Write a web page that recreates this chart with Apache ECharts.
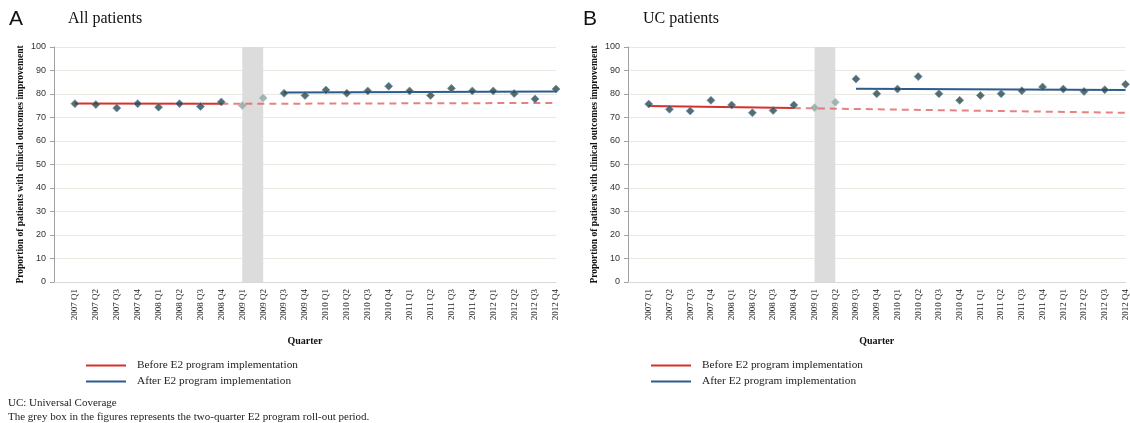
<!DOCTYPE html>
<html><head><meta charset="utf-8">
<script src="https://cdn.jsdelivr.net/npm/echarts@6/dist/echarts.min.js"></script>
<style>html,body{margin:0;padding:0;background:#fff}#c{width:1130px;height:423px}</style>
</head><body><div id="c"></div>
<script>
const quarters = ['2007 Q1','2007 Q2','2007 Q3','2007 Q4','2008 Q1','2008 Q2','2008 Q3','2008 Q4',
  '2009 Q1','2009 Q2','2009 Q3','2009 Q4','2010 Q1','2010 Q2','2010 Q3','2010 Q4',
  '2011 Q1','2011 Q2','2011 Q3','2011 Q4','2012 Q1','2012 Q2','2012 Q3','2012 Q4'];
const yTicks = [0,10,20,30,40,50,60,70,80,90,100];
const allPatients = [75.9,75.5,74.0,75.9,74.4,75.9,74.7,76.6,75.1,78.3,80.3,79.4,81.7,80.3,81.3,83.3,81.3,79.4,82.4,81.3,81.3,80.2,77.9,82.1];
const ucPatients  = [75.7,73.5,72.8,77.3,75.3,72.0,73.0,75.3,74.2,76.5,86.4,80.1,82.1,87.4,80.1,77.3,79.4,80.1,81.4,83.0,82.1,81.1,81.8,84.1];
const rolloutSpan = ['2009 Q1','2009 Q2'];
const beforeSpan = ['2007 Q1','2008 Q4'];
const counterSpan = ['2008 Q4','2012 Q4'];
const afterSpan = ['2009 Q3','2012 Q4'];
const fitBeforeA = [76.0, 75.8];
const fitCounterA = [75.8, 76.2];
const fitAfterA = [80.6, 81.1];
const fitBeforeB = [74.9, 74.0];
const fitCounterB = [74.0, 72.0];
const fitAfterB = [82.2, 81.7];
const legendNames = ['Before E2 program implementation','After E2 program implementation'];

const SERIF = '"Liberation Serif","Times New Roman",serif';
const SANS = '"Liberation Sans",Arial,sans-serif';
const RED = '#d7312c', BLUE = '#2d5b8e';

const chart = echarts.init(document.getElementById('c'), null, {renderer:'canvas'});
const idx = q => quarters.indexOf(q);
const seg = (span, vals) => [[idx(span[0]), vals[0]], [idx(span[1]), vals[1]]];
const r0 = idx(rolloutSpan[0]), r1 = idx(rolloutSpan[1]);

function grid(left, width){ return {left:left, top:47, width:width, height:235, containLabel:false}; }
function xAx(gi){
  return {type:'value', gridIndex:gi, min:-1, max:quarters.length-1, interval:1,
    name:'Quarter', nameLocation:'middle', nameGap:54,
    nameTextStyle:{fontFamily:SERIF, fontWeight:'bold', fontSize:10, color:'#111'},
    axisLine:{show:true, onZero:false, lineStyle:{color:'#d8d8d8', width:1}},
    axisTick:{show:false}, splitLine:{show:false},
    axisLabel:{rotate:90, margin:7, fontFamily:SERIF, fontSize:9, color:'#222',
      showMinLabel:true, showMaxLabel:true,
      formatter: v => quarters[v] || ''}};
}
function yAx(gi){
  return {type:'value', gridIndex:gi, min:yTicks[0], max:yTicks[yTicks.length-1], interval:10,
    name:'Proportion of patients with clinical outcomes improvement', nameLocation:'middle', nameGap:28,
    nameTextStyle:{fontFamily:SERIF, fontWeight:'bold', fontSize:9.5, color:'#111'},
    axisLine:{show:true, onZero:false, lineStyle:{color:'#a0a0a0'}},
    axisTick:{show:true, length:4, lineStyle:{color:'#a0a0a0'}},
    splitLine:{show:true, lineStyle:{color:'#e9e9e1', width:1}},
    axisLabel:{fontFamily:SANS, fontSize:9, color:'#333', margin:8}};
}
function pts(vals, gi){
  return {type:'scatter', xAxisIndex:gi, yAxisIndex:gi, symbol:'diamond', symbolSize:8, z:5,
    data: vals.map((v,i)=>{
      const inRoll = i>=r0 && i<=r1;
      return {value:[i,v], itemStyle:{color: inRoll ? '#8fa59e' : '#2c4a44',
        borderColor: inRoll ? 'rgba(170,190,210,0.8)' : 'rgba(100,140,195,0.8)', borderWidth:1}};
    }),
    markArea:{silent:true, itemStyle:{color:'#dcdcdc'}, data:[[{xAxis:r0},{xAxis:r1}]]}};
}
function ln(name, data, gi, color, dashed){
  return {type:'line', name:name, xAxisIndex:gi, yAxisIndex:gi, data:data, symbol:'none', z:3,
    lineStyle:{color:color, width:2, type: dashed ? [7,5] : 'solid', opacity: dashed?0.75:1},
    itemStyle:{color:color}};
}
function legend(left){
  return {orient:'vertical', left:left, top:360, itemWidth:40, itemHeight:2, itemGap:5, icon:'rect',
    data:legendNames, selectedMode:false, padding:0,
    textStyle:{fontFamily:SERIF, fontSize:11.3, color:'#222', padding:[0,0,0,6]}};
}

chart.setOption({
  animation:false,
  grid:[grid(54, 502), grid(628, 499)],
  xAxis:[xAx(0), xAx(1)],
  yAxis:[yAx(0), yAx(1)],
  legend:[legend(86), legend(651)],
  series:[
    ln(legendNames[0], seg(beforeSpan, fitBeforeA), 0, RED, false),
    ln(legendNames[1], seg(afterSpan, fitAfterA), 0, BLUE, false),
    ln(legendNames[0], seg(counterSpan, fitCounterA), 0, '#dd5a55', true),
    pts(allPatients, 0),
    ln(legendNames[0], seg(beforeSpan, fitBeforeB), 1, RED, false),
    ln(legendNames[1], seg(afterSpan, fitAfterB), 1, BLUE, false),
    ln(legendNames[0], seg(counterSpan, fitCounterB), 1, '#dd5a55', true),
    pts(ucPatients, 1)
  ],
  graphic:[
    {type:'text', left:9, top:9, style:{text:'A', font:'21px '+SANS, fill:'#111'}},
    {type:'text', left:68, top:11, style:{text:'All patients', font:'16px '+SERIF, fill:'#111'}},
    {type:'text', left:583, top:9, style:{text:'B', font:'21px '+SANS, fill:'#111'}},
    {type:'text', left:643, top:11, style:{text:'UC patients', font:'16px '+SERIF, fill:'#111'}},
    {type:'text', left:8, top:398, style:{text:'UC: Universal Coverage', font:'11px '+SERIF, fill:'#222'}},
    {type:'text', left:8, top:412, style:{text:'The grey box in the figures represents the two-quarter E2 program roll-out period.', font:'11px '+SERIF, fill:'#222'}}
  ]
});
</script></body></html>
